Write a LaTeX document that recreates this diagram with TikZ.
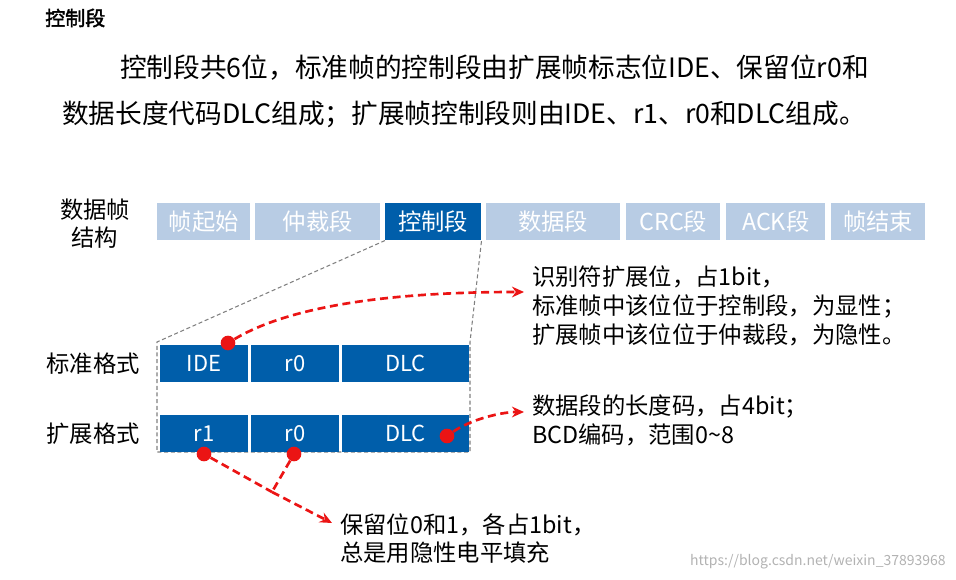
\documentclass[tikz,border=0pt]{standalone}
\usepackage{fontspec}
\setmainfont{Noto Sans CJK SC}
\newfontfamily\cjkb[FakeBold=2]{Noto Sans CJK SC}
\usetikzlibrary{arrows.meta}
\definecolor{lb}{RGB}{184,204,228}
\definecolor{db}{RGB}{0,94,170}
\definecolor{rd}{RGB}{235,20,20}
\begin{document}
\begin{tikzpicture}[x=0.75pt,y=-0.75pt,
  seg/.style={anchor=north west,inner sep=0,minimum height=37*0.75pt,text=white,font=\fontsize{17.5}{17.5}\selectfont},
  fld/.style={seg,fill=db,font=\fontsize{16.5}{16.5}\selectfont},
  lbl/.style={anchor=west,inner sep=0,font=\fontsize{17.5}{17.5}\selectfont},
  ra/.style={rd,line width=2pt,dash pattern=on 6pt off 3.5pt,-{Stealth[length=9pt,width=8pt]}},
  rl/.style={rd,line width=2pt,dash pattern=on 6pt off 3.5pt},
  dot/.style={circle,fill=rd,inner sep=0,minimum size=11pt},
  gd/.style={gray,line width=0.8pt,dash pattern=on 3pt off 2pt}]
\useasboundingbox (0,0) rectangle (956,580);
\node[anchor=west,inner sep=0,font=\cjkb\fontsize{15}{15}\selectfont] (t) at (45,18) {控制段};
\node[anchor=west,inner sep=0,font=\fontsize{20}{20}\selectfont] (p1) at (120,68) {控制段共6位，标准帧的控制段由扩展帧标志位IDE、保留位r0和};
\node[anchor=west,inner sep=0,font=\fontsize{20}{20}\selectfont] (p2) at (62,114) {数据长度代码DLC组成；扩展帧控制段则由IDE、r1、r0和DLC组成。};
\node[align=center,inner sep=0,font=\fontsize{17.5}{21}\selectfont] (sj) at (95,224) {数据帧\\结构};
\node[seg,fill=lb,minimum width=93*0.75pt] (a1) at (157,203) {帧起始};
\node[seg,fill=lb,minimum width=125*0.75pt] (a2) at (255,203) {仲裁段};
\node[seg,fill=db,minimum width=96*0.75pt] (a3) at (385,203) {控制段};
\node[seg,fill=lb,minimum width=134*0.75pt] (a4) at (486,203) {数据段};
\node[seg,fill=lb,minimum width=94*0.75pt] (a5) at (626,203) {CRC段};
\node[seg,fill=lb,minimum width=99*0.75pt] (a6) at (726,203) {ACK段};
\node[seg,fill=lb,minimum width=94*0.75pt] (a7) at (831,203) {帧结束};
\coordinate (c1) at (157,342); \coordinate (c2) at (470,342);
\coordinate (c3) at (470,452); \coordinate (c4) at (157,452);
\draw[gd] (a3.south west) -- (c1) -- (c4) -- (c3) -- (c2) -- (a3.south east);
\node[fld,minimum width=88*0.75pt] (ide) at (160,345) {IDE};
\node[fld,minimum width=88*0.75pt] (r0a) at (251,345) {r0};
\node[fld,minimum width=127*0.75pt] (dlca) at (342,345) {DLC};
\node[fld,minimum width=88*0.75pt] (r1) at (160,415) {r1};
\node[fld,minimum width=88*0.75pt] (r0b) at (251,415) {r0};
\node[fld,minimum width=127*0.75pt] (dlcb) at (342,415) {DLC};
\node[inner sep=0,font=\fontsize{17.5}{17.5}\selectfont] (bz) at (93,364) {标准格式};
\node[inner sep=0,font=\fontsize{17.5}{17.5}\selectfont] (kz) at (93,434) {扩展格式};
\node[dot] (d1) at (228,343) {};
\node[dot] (d2) at (447,436) {};
\node[dot] (d3) at (204,454) {};
\node[dot] (d4) at (294,454) {};
\node[lbl] (t1) at (532,277) {识别符扩展位，占1bit，};
\node[lbl] (t2) at (532,306) {标准帧中该位位于控制段，为显性；};
\node[lbl] (t3) at (532,335) {扩展帧中该位位于仲裁段，为隐性。};
\node[lbl] (m1) at (532,407) {数据段的长度码，占4bit；};
\node[lbl] (m2) at (532,435) {BCD编码，范围0\textasciitilde8};
\node[lbl] (b1) at (340,525) {保留位0和1，各占1bit，};
\node[lbl] (b2) at (340,553) {总是用隐性电平填充};
\node[anchor=east,inner sep=0,text=gray!60,font=\fontsize{10.5}{10.5}\selectfont] (wm) at (946,562) {https://blog.csdn.net/weixin\_37893968};
\coordinate (j) at (272,492);
\draw[ra] (d1) .. controls (300,300) and (420,292) .. ([xshift=-8*0.75pt]t1.west|-0,292);
\draw[ra] (d2) .. controls (470,420) and (500,412) .. ([xshift=-8*0.75pt]m1.west|-0,412);
\draw[rl] (d3) -- (j);
\draw[rl] (d4) -- (j);
\draw[ra] (j) -- ([xshift=-8*0.75pt]b1.west|-0,523);
\end{tikzpicture}
\end{document}
